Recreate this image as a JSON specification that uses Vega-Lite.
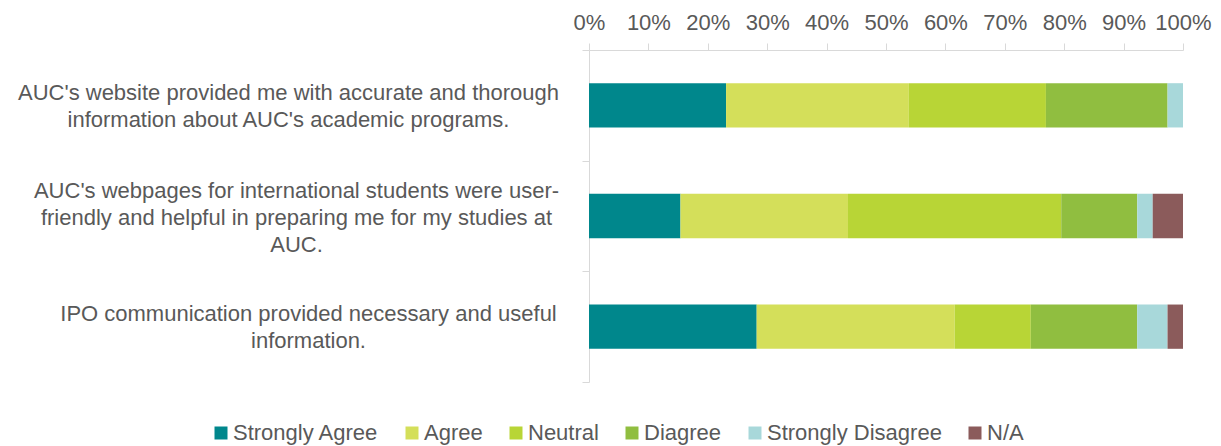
{
  "$schema": "https://vega.github.io/schema/vega-lite/v6.json",
  "autosize": {"type": "none"},
  "padding": {"left": 589, "top": 50, "right": 38, "bottom": 64},
  "width": 594,
  "height": 332,
  "background": "white",
  "config": {
    "view": {"stroke": null},
    "font": "Liberation Sans"
  },
  "data": {
    "values": [
      {"statement": "AUC's website provided me with accurate and thorough information about AUC's academic programs.", "response": "Strongly Agree", "level": 1, "pct": 23.1},
      {"statement": "AUC's website provided me with accurate and thorough information about AUC's academic programs.", "response": "Agree", "level": 2, "pct": 30.8},
      {"statement": "AUC's website provided me with accurate and thorough information about AUC's academic programs.", "response": "Neutral", "level": 3, "pct": 23.1},
      {"statement": "AUC's website provided me with accurate and thorough information about AUC's academic programs.", "response": "Diagree", "level": 4, "pct": 20.5},
      {"statement": "AUC's website provided me with accurate and thorough information about AUC's academic programs.", "response": "Strongly Disagree", "level": 5, "pct": 2.6},
      {"statement": "AUC's website provided me with accurate and thorough information about AUC's academic programs.", "response": "N/A", "level": 6, "pct": 0},
      {"statement": "AUC's webpages for international students were user-friendly and helpful in preparing me for my studies at AUC.", "response": "Strongly Agree", "level": 1, "pct": 15.4},
      {"statement": "AUC's webpages for international students were user-friendly and helpful in preparing me for my studies at AUC.", "response": "Agree", "level": 2, "pct": 28.2},
      {"statement": "AUC's webpages for international students were user-friendly and helpful in preparing me for my studies at AUC.", "response": "Neutral", "level": 3, "pct": 35.9},
      {"statement": "AUC's webpages for international students were user-friendly and helpful in preparing me for my studies at AUC.", "response": "Diagree", "level": 4, "pct": 12.8},
      {"statement": "AUC's webpages for international students were user-friendly and helpful in preparing me for my studies at AUC.", "response": "Strongly Disagree", "level": 5, "pct": 2.6},
      {"statement": "AUC's webpages for international students were user-friendly and helpful in preparing me for my studies at AUC.", "response": "N/A", "level": 6, "pct": 5.1},
      {"statement": "IPO communication provided necessary and useful information.", "response": "Strongly Agree", "level": 1, "pct": 28.2},
      {"statement": "IPO communication provided necessary and useful information.", "response": "Agree", "level": 2, "pct": 33.3},
      {"statement": "IPO communication provided necessary and useful information.", "response": "Neutral", "level": 3, "pct": 12.8},
      {"statement": "IPO communication provided necessary and useful information.", "response": "Diagree", "level": 4, "pct": 17.9},
      {"statement": "IPO communication provided necessary and useful information.", "response": "Strongly Disagree", "level": 5, "pct": 5.1},
      {"statement": "IPO communication provided necessary and useful information.", "response": "N/A", "level": 6, "pct": 2.6}
    ]
  },
  "mark": {"type": "bar", "height": {"band": 0.4}},
  "encoding": {
    "y": {
      "field": "statement",
      "type": "nominal",
      "sort": null,
      "scale": {"paddingInner": 0, "paddingOuter": 0},
      "axis": {
        "title": null,
        "domainColor": "#D9D9D9",
        "tickColor": "#D9D9D9",
        "tickSize": 7,
        "tickBand": "extent",
        "labelFont": "Liberation Sans",
        "labelFontSize": 22,
        "labelColor": "#595959",
        "labelAlign": "center",
        "labelBaseline": "middle",
        "labelLineHeight": 27,
        "labelLimit": 0,
        "labelPadding": {
          "condition": [
            {"test": "indexof(datum.label, 'website') >= 0", "value": 294},
            {"test": "indexof(datum.label, 'webpages') >= 0", "value": 286}
          ],
          "value": 274
        },
        "labelOffset": {
          "condition": [
            {"test": "indexof(datum.label, 'webpages') >= 0", "value": -26}
          ],
          "value": -13
        },
        "labelExpr": "indexof(datum.label, 'website') >= 0 ? [\"AUC's website provided me with accurate and thorough\", \"information about AUC's academic programs.\"] : indexof(datum.label, 'webpages') >= 0 ? [\"AUC's webpages for international students were user-\", \"friendly and helpful in preparing me for my studies at\", \"AUC.\"] : indexof(datum.label, 'IPO') >= 0 ? [\"IPO communication provided necessary and useful\", \"information.\"] : ''"
      }
    },
    "x": {
      "field": "pct",
      "type": "quantitative",
      "stack": "normalize",
      "scale": {"domain": [0, 1]},
      "axis": {
        "orient": "top",
        "title": null,
        "format": "%",
        "values": [0, 0.1, 0.2, 0.3, 0.4, 0.5, 0.6, 0.7, 0.8, 0.9, 1],
        "grid": false,
        "domainColor": "#D9D9D9",
        "tickColor": "#D9D9D9",
        "tickSize": 7,
        "labelFont": "Liberation Sans",
        "labelFontSize": 22,
        "labelColor": "#595959",
        "labelBaseline": "alphabetic",
        "labelPadding": 14,
        "labelFlush": false
      }
    },
    "color": {
      "field": "response",
      "type": "nominal",
      "scale": {
        "domain": ["Strongly Agree", "Agree", "Neutral", "Diagree", "Strongly Disagree", "N/A"],
        "range": ["#00878C", "#D4DF5A", "#B8D536", "#90BE40", "#A8D8DA", "#8B5B5B"]
      },
      "legend": {
        "title": null,
        "orient": "none",
        "direction": "horizontal",
        "legendX": -379,
        "legendY": 372,
        "padding": 0,
        "symbolType": "square",
        "symbolSize": 169,
        "symbolStrokeWidth": 0,
        "labelFont": "Liberation Sans",
        "labelFontSize": 22,
        "labelColor": "#595959",
        "labelOffset": 1,
        "columnPadding": 22,
        "labelLimit": 0
      }
    },
    "order": {"field": "level", "type": "quantitative", "sort": "ascending"}
  }
}
